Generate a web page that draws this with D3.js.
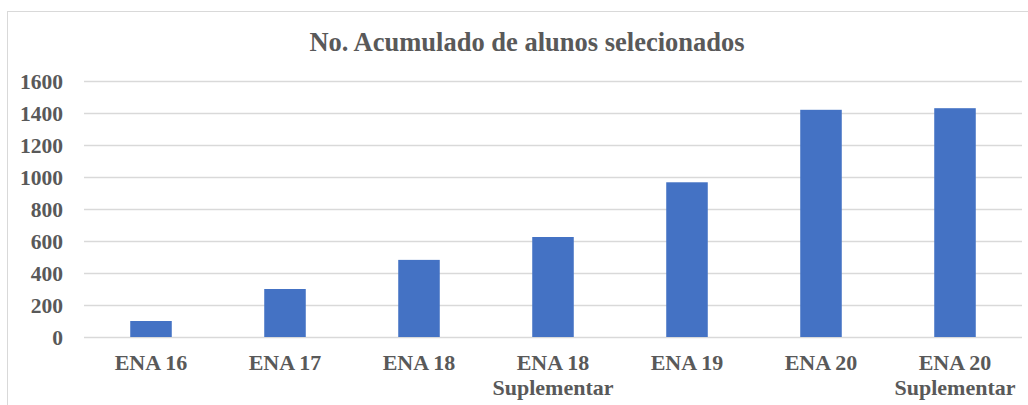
<!DOCTYPE html>
<html>
<head>
<meta charset="utf-8">
<script src="https://cdn.jsdelivr.net/npm/d3@7"></script>
<style>
  body { margin: 0; background: #fff; }
  svg text { font-family: "Liberation Serif", Tinos, "DejaVu Serif", serif; font-weight: bold; fill: #595959; }
</style>
</head>
<body>
<div id="chart"></div>
<script>
// categorias e valores
var categories = ["ENA 16", "ENA 17", "ENA 18", "ENA 18 Suplementar", "ENA 19", "ENA 20", "ENA 20 Suplementar"];
var values = [100, 300, 482, 625, 967, 1420, 1430];
var yTicks = [0, 200, 400, 600, 800, 1000, 1200, 1400, 1600];
var title = "No. Acumulado de alunos selecionados";

var width = 1028, height = 405;
var svg = d3.select('#chart')
    .append('svg')
    .attr('width', width)
    .attr('height', height);

// moldura
svg.append('rect')
    .attr('x', 7.5).attr('y', 11.5)
    .attr('width', 1040).attr('height', 420)
    .attr('fill', 'none')
    .attr('stroke', '#d9d9d9');

var xScale = d3.scaleBand().domain(categories).range([84, 1022]).paddingInner(0.69).paddingOuter(0.345);
var yScale = d3.scaleLinear().domain([0, 1600]).range([337, 81]);

// grelha
svg.append('g')
    .selectAll('line')
    .data(yTicks)
    .enter().append('line')
    .attr('x1', 84).attr('x2', 1022)
    .attr('y1', function(d) { return Math.round(yScale(d)) + 0.5; })
    .attr('y2', function(d) { return Math.round(yScale(d)) + 0.5; })
    .attr('stroke', '#d9d9d9')
    .attr('stroke-width', 1.5);

svg.append('g')
    .selectAll('rect')
    .data(values)
    .enter().append('rect')
    .attr('x', function(d, i) { return xScale(categories[i]); })
    .attr('y', function(d) { return yScale(d); })
    .attr('width', xScale.bandwidth())
    .attr('height', function(d) { return yScale(0) - yScale(d); })
    .attr('fill', '#4472c4');

var yAxis = d3.axisLeft(yScale).tickValues(yTicks).tickSize(0).tickPadding(0).tickFormat(d3.format('d'));
var gy = svg.append('g')
    .attr('transform', 'translate(63,0)')
    .call(yAxis);
gy.attr('font-family', null);
gy.select('.domain').remove();
gy.selectAll('text').attr('font-size', 21.5).attr('dy', '0.35em');

var xAxis = d3.axisBottom(xScale).tickSize(0).tickFormat('');
var gx = svg.append('g')
    .attr('transform', 'translate(0,337)')
    .call(xAxis);
gx.attr('font-family', null);
gx.select('.domain').remove();
gx.selectAll('.tick').each(function(d) {
    var parts = d.indexOf(' Suplementar') > 0 ? [d.replace(' Suplementar', ''), 'Suplementar'] : [d];
    var t = d3.select(this).append('text')
        .attr('text-anchor', 'middle')
        .attr('font-size', 22);
    parts.forEach(function(p, k) {
        t.append('tspan').attr('x', 0).attr('y', 33 + k * 25).text(p);
    });
});

svg.append('text')
    .attr('x', 527)
    .attr('y', 51)
    .attr('text-anchor', 'middle')
    .attr('font-size', 26.5)
    .text(title);
</script>
</body>
</html>
